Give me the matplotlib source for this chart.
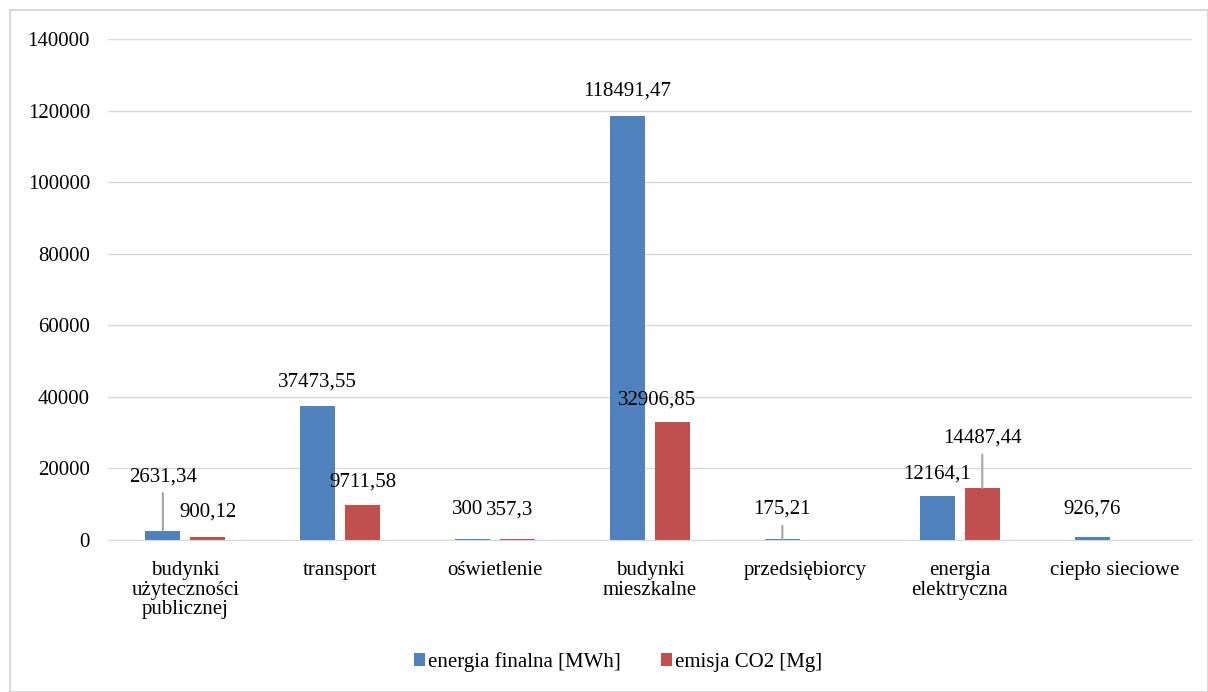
import matplotlib
matplotlib.use("Agg")
import matplotlib.pyplot as plt
import numpy as np

categories = ["budynki\nużyteczności\npublicznej", "transport", "oświetlenie",
              "budynki\nmieszkalne", "przedsiębiorcy", "energia\nelektryczna",
              "ciepło sieciowe"]
energia = [2631.34, 37473.55, 300, 118491.47, 175.21, 12164.1, 926.76]
emisja = [900.12, 9711.58, 357.3, 32906.85, None, 14487.44, None]

# label offsets in pixels (dx, dy) from bar top, and whether a leader line is drawn
energia_off = [(0, 54, True), (0, 24, False), (-5, 29, False), (0, 25, False),
               (0, 30, True), (0, 22, False), (0, 28, False)]
emisja_off = [(0, 25, False), (0, 23, False), (-8, 29, False), (-15, 22, False),
              None, (0, 50, True), None]

blue = "#4F81BD"
red = "#C0504D"

plt.rcParams['font.family'] = ['Liberation Serif', 'DejaVu Serif']
plt.rcParams['font.size'] = 15

fig = plt.figure(figsize=(12.08, 6.92), dpi=100)
ax = fig.add_axes([0.0894, 0.2197, 0.8974, 0.7239])

x = np.arange(len(categories))
w = 0.226
gap = 0.065
e_vals = [v if v is not None else 0 for v in energia]
m_vals = [v if v is not None else 0 for v in emisja]
b1 = ax.bar(x - (w + gap) / 2, e_vals, w, color=blue, label="energia finalna [MWh]")
b2 = ax.bar(x + (w + gap) / 2, m_vals, w, color=red, label="emisja CO2 [Mg]")


def fmt(v):
    s = ("%.2f" % v).rstrip("0").rstrip(".")
    return s.replace(".", ",")


def label(bars, vals, offs):
    for bar, v, off in zip(bars, vals, offs):
        if v is None or off is None:
            continue
        dx, dy, leader = off
        cx = bar.get_x() + bar.get_width() / 2
        kw = {}
        if leader:
            kw["arrowprops"] = dict(arrowstyle="-", color="#A6A6A6", lw=1.5,
                                    shrinkA=3, shrinkB=0)
        ax.annotate(fmt(v), xy=(cx, v), xytext=(dx, dy), textcoords="offset pixels",
                    ha="center", va="center", fontsize=15, **kw)


label(b1, energia, energia_off)
label(b2, emisja, emisja_off)

ax.set_xlim(-0.5, len(categories) - 0.5)
ax.set_ylim(0, 140000)
ax.set_yticks(np.arange(0, 140001, 20000))
ax.set_xticks(x)
ax.set_xticklabels(categories, linespacing=1.05, va="top")
ax.tick_params(axis="both", length=0, labelsize=15)
ax.tick_params(axis="y", pad=13)
ax.tick_params(axis="x", pad=15)
ax.yaxis.grid(True, color="#D9D9D9", lw=1)
ax.set_axisbelow(True)
for s in ["top", "right", "left"]:
    ax.spines[s].set_visible(False)
ax.spines["bottom"].set_color("#D9D9D9")

ax.legend(loc="center", bbox_to_anchor=(618 / 1208, 1 - 662 / 692),
          bbox_transform=fig.transFigure, ncol=2, frameon=False,
          handlelength=0.53, handleheight=0.53, handletextpad=0.15,
          columnspacing=1.9, fontsize=15)

fig.patches.append(plt.Rectangle((10 / 1208, 0), 1 - 10 / 1208, 1 - 10 / 692,
                                 transform=fig.transFigure, fill=False,
                                 edgecolor="#D9D9D9", lw=1.5))

fig.savefig("out.png", dpi=100)
